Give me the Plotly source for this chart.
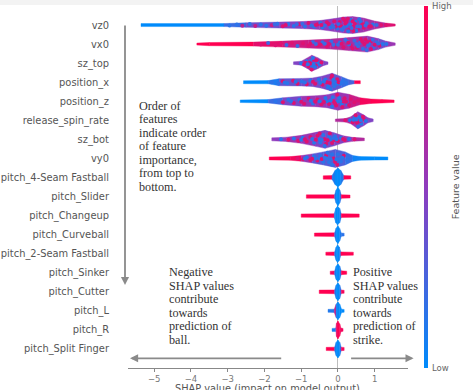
import numpy as np
import plotly.graph_objects as go

W, H = 473, 390
L_PX, R_PX, T_PX, B_PX = 128.0, 407.7, 6.0, 368.0

features = ["vz0", "vx0", "sz_top", "position_x", "position_z", "release_spin_rate",
            "sz_bot", "vy0", "pitch_4-Seam Fastball", "pitch_Slider", "pitch_Changeup",
            "pitch_Curveball", "pitch_2-Seam Fastball", "pitch_Sinker", "pitch_Cutter",
            "pitch_L", "pitch_R", "pitch_Split Finger"]

# Outline of each swarm: SHAP stations, swarm density there, mean feature value between stations
vz0_shap = [-5.36, -3.1, -2.5, -1.6, -1.0, -0.5, -0.1, 0.15, 0.4, 0.7, 1.0, 1.3, 1.56]
vz0_density = [1.5, 1.5, 2.3, 3, 3.5, 4.5, 6.5, 8, 8.5, 7, 4, 2, 1]
vz0_value = [0, 0.2, 0.38, 0.46, 0.5, 0.5, 0.5, 0.55, 0.55, 0.6, 0.65, 0.85]

vx0_shap = [-3.84, -3.5, -2.3, -1.5, -0.8, -0.2, 0.3, 0.8, 1.1, 1.3, 1.56]
vx0_density = [1, 1.6, 2, 3, 4, 5, 6.5, 8, 5.5, 3, 1.2]
vx0_value = [1, 1, 0.88, 0.78, 0.72, 0.65, 0.6, 0.52, 0.4, 0.55]

sz_top_shap = [-1.21, -1.0, -0.85, -0.71, -0.55, -0.4, -0.27]
sz_top_density = [1.3, 2, 5, 8, 5.5, 2.5, 1.2]
sz_top_value = [0.45, 0.55, 0.55, 0.55, 0.5, 0.45]

position_x_shap = [-2.57, -1.9, -1.6, -1.0, -0.7, -0.44, -0.16, 0.1, 0.3, 0.45, 0.61]
position_x_density = [1.5, 1.6, 3.5, 3.8, 4.2, 6, 9, 5.5, 2.5, 1.5, 1.5]
position_x_value = [0, 0.1, 0.35, 0.4, 0.42, 0.45, 0.35, 0.2, 0.25, 1]

position_z_shap = [-2.66, -1.9, -1.5, -1.0, -0.6, -0.3, 0.0, 0.3, 0.6, 0.9, 1.2, 1.53]
position_z_density = [1.3, 1.7, 3.5, 5, 5.5, 6.5, 9, 7, 3.5, 2.2, 1.8, 1.2]
position_z_value = [0, 0.2, 0.42, 0.55, 0.55, 0.5, 0.55, 0.75, 0.95, 1, 1]

release_spin_rate_shap = [-0.07, 0.2, 0.35, 0.54, 0.7, 0.82, 0.96]
release_spin_rate_density = [1.3, 1.8, 3.5, 8.5, 5.5, 2.5, 1.3]
release_spin_rate_value = [0.65, 0.65, 0.55, 0.5, 0.5, 0.45]

sz_bot_shap = [-1.8, -1.4, -1.0, -0.6, -0.35, -0.1, 0.15, 0.4, 0.72]
sz_bot_density = [1.5, 2.2, 4, 7, 9, 6.5, 3.5, 2, 1.3]
sz_bot_value = [0.5, 0.58, 0.55, 0.45, 0.42, 0.45, 0.55, 0.65]

vy0_shap = [-1.87, -1.3, -1.0, -0.7, -0.4, -0.07, 0.2, 0.4, 0.6, 1.0, 1.36]
vy0_density = [1.5, 1.8, 2.8, 4.5, 6.5, 9, 6.5, 3, 1.8, 1.6, 1.5]
vy0_value = [1, 0.95, 0.55, 0.32, 0.3, 0.28, 0.18, 0.05, 0, 0]

fastball4_shap = [-0.4, -0.16, -0.08, 0.0, 0.08, 0.16, 0.35]
fastball4_density = [1.7, 1.9, 7, 9.5, 7, 1.9, 1.6]
fastball4_value = [1, 0.12, 0, 0, 0.12, 1]

slider_shap = [-0.86, -0.09, -0.05, 0.0, 0.05, 0.09, 0.33]
slider_density = [1.7, 1.8, 6.5, 9.5, 6.5, 1.8, 1.5]
slider_value = [1, 0.15, 0, 0, 0.15, 1]

changeup_shap = [-1.0, -0.1, -0.06, -0.01, 0.05, 0.09, 0.58]
changeup_density = [1.7, 1.9, 7, 9.5, 7, 1.9, 1.6]
changeup_value = [1, 0.1, 0, 0, 0.1, 1]

curveball_shap = [-0.64, -0.09, -0.05, 0.0, 0.05, 0.09, 0.17]
curveball_density = [1.6, 1.8, 6.5, 9, 6, 1.7, 1.4]
curveball_value = [1, 0.15, 0, 0, 0.1, 0.15]

seam2_shap = [-0.33, -0.09, -0.05, -0.01, 0.04, 0.08, 0.42]
seam2_density = [1.5, 1.8, 6.5, 9, 6.5, 1.8, 1.5]
seam2_value = [1, 0.1, 0, 0, 0.12, 1]

sinker_shap = [-0.21, -0.09, -0.05, 0.0, 0.05, 0.09, 0.24]
sinker_density = [1.6, 1.8, 6.5, 9, 6.5, 1.9, 1.6]
sinker_value = [0.95, 0.1, 0, 0, 0.12, 1]

cutter_shap = [-0.51, -0.09, -0.05, 0.0, 0.05, 0.09, 0.17]
cutter_density = [1.7, 1.9, 6.5, 9, 6.5, 1.8, 1.5]
cutter_value = [1, 0.15, 0, 0, 0.15, 0.95]

pitch_l_shap = [-0.27, -0.1, -0.05, 0.0, 0.05, 0.1, 0.17]
pitch_l_density = [1.5, 1.7, 6.5, 9, 6.5, 1.7, 1.4]
pitch_l_value = [0.12, 0.75, 0.05, 0, 0, 0]

pitch_r_shap = [-0.16, -0.06, -0.04, 0.0, 0.05, 0.08, 0.14]
pitch_r_density = [1.5, 1.7, 6.5, 9, 6, 1.9, 1.4]
pitch_r_value = [0.08, 0.6, 0.97, 1, 0.95, 0.95]

split_shap = [-0.32, -0.09, -0.05, 0.0, 0.05, 0.09, 0.17]
split_density = [1.6, 1.8, 6.5, 9, 6.5, 1.8, 1.5]
split_value = [1, 0.12, 0, 0, 0.12, 0.95]

outline_shap = [vz0_shap, vx0_shap, sz_top_shap, position_x_shap, position_z_shap,
                release_spin_rate_shap, sz_bot_shap, vy0_shap, fastball4_shap, slider_shap,
                changeup_shap, curveball_shap, seam2_shap, sinker_shap, cutter_shap,
                pitch_l_shap, pitch_r_shap, split_shap]
outline_density = [vz0_density, vx0_density, sz_top_density, position_x_density,
                   position_z_density, release_spin_rate_density, sz_bot_density, vy0_density,
                   fastball4_density, slider_density, changeup_density, curveball_density,
                   seam2_density, sinker_density, cutter_density, pitch_l_density,
                   pitch_r_density, split_density]
outline_value = [vz0_value, vx0_value, sz_top_value, position_x_value, position_z_value,
                 release_spin_rate_value, sz_bot_value, vy0_value, fastball4_value, slider_value,
                 changeup_value, curveball_value, seam2_value, sinker_value, cutter_value,
                 pitch_l_value, pitch_r_value, split_value]

# Individual observations inside the eight continuous-feature swarms:
# SHAP value, place within the swarm height (-1..1), feature value
vz0_pts_x = [-2.95, -2.75, -2.6, -2.4, -2.25, -2.1, -1.95, -1.8, -1.65, -1.5, -1.35, -1.2, -1.05, -0.9,
             -0.8, -0.65, -0.55, -0.42, -0.3, -0.2, -0.1, -0.02, 0.05, 0.12, 0.18, 0.24, 0.3, 0.36, 0.42,
             0.48, 0.55, 0.62, 0.7, 0.78, 0.85, 0.95, 0.05, 0.2, 0.33, 0.5, 0.65, 0.28, 0.42, 0.14, 0.58,
             -1.72, -1.42, -1.12, -0.97, -0.72, -0.6, -0.48, -0.36, -0.25, -0.15, -0.06, 0.02, 0.09, 0.16,
             0.23, 0.37, 0.46, 0.53, 0.68, 0.75, 0.9, 1.05, 1.18, 1.3, 0.27, 0.1, 0.6, 0.4, -0.45, -0.12]
vz0_pts_f = [0.2, -0.3, 0.3, -0.4, 0.4, -0.2, 0.3, 0.1, -0.4, 0.4, -0.3, 0.3, -0.2, 0.4, -0.5, 0.4, -0.2, 0.5,
             -0.5, 0.4, -0.6, 0.5, -0.4, 0.6, -0.6, 0.1, 0.6, -0.6, 0.2, -0.4, 0.5, -0.4, 0.4, -0.3, 0.3, -0.1,
             0.1, -0.2, -0.1, 0.7, 0.0, 0.75, 0.7, -0.8, -0.75,
             -0.3, 0.0, -0.2, -0.4, 0.1, 0.0, -0.5, 0.1, -0.2, 0.1, 0.2, -0.1, 0.2, 0.3, -0.4, 0.35, -0.15, 0.2,
             -0.1, 0.05, 0.25, 0.0, 0.0, 0.0, -0.75, 0.55, 0.2, -0.45, 0.0, 0.3]
vz0_pts_v = [0.15, 0.15, 0.7, 0.15, 0.75, 0.15, 0.15, 0.75, 0.15, 0.85, 0.15, 0.15, 0.85, 0.15, 0.85, 0.15, 0.85,
             0.15, 0.85, 0.15, 0.85, 0.15, 0.85, 0.15, 0.85, 0.15, 0.85, 0.15, 0.85, 0.15, 0.85, 0.15, 0.85, 0.15,
             0.85, 0.15, 0.85, 0.85, 0.15, 0.15, 0.85, 0.15, 0.85, 0.85, 0.15,
             0.2, 0.85, 0.2, 0.2, 0.2, 0.85, 0.2, 0.2, 0.85, 0.2, 0.85, 0.2, 0.85, 0.2, 0.85, 0.2, 0.85, 0.2,
             0.85, 0.2, 0.85, 0.2, 0.85, 0.85, 0.85, 0.2, 0.2, 0.85, 0.85, 0.2]

vx0_pts_x = [-2.1, -1.9, -1.7, -1.55, -1.4, -1.25, -1.1, -0.95, -0.8, -0.68, -0.55, -0.42, -0.3, -0.18, -0.05, 0.05,
             0.15, 0.25, 0.35, 0.45, 0.52, 0.6, 0.68, 0.75, 0.82, 0.9, 0.97, 1.05, 1.13, 1.22, 1.32, 0.62, 0.78,
             0.4, 0.9, 0.2, 0.72,
             -0.75, -0.6, -0.48, -0.36, -0.24, -0.12, 0.0, 0.1, 0.3, 0.5, 0.66, 0.85, 1.0, 0.55, 0.8, 0.28, 0.95, 1.1]
vx0_pts_f = [0.2, -0.4, 0.4, -0.3, 0.3, -0.4, 0.5, -0.2, 0.4, -0.5, 0.3, -0.4, 0.5, -0.5, 0.3, -0.3, 0.5, -0.4, 0.2,
             -0.5, 0.5, -0.2, 0.6, -0.6, 0.2, -0.4, 0.5, -0.3, 0.3, 0.0, 0.0, -0.7, 0.75, 0.65, 0.7, -0.7, 0.0,
             -0.1, 0.0, 0.1, -0.1, 0.0, 0.1, 0.1, -0.05, 0.05, 0.0, -0.3, 0.0, 0.1, 0.3, -0.3, -0.2, -0.65, -0.1]
vx0_pts_v = [0.85, 0.2, 0.85, 0.85, 0.2, 0.85, 0.2, 0.85, 0.85, 0.2, 0.85, 0.2, 0.85, 0.2, 0.85, 0.2, 0.85,
             0.2, 0.85, 0.2, 0.85, 0.2, 0.2, 0.85, 0.2, 0.85, 0.2, 0.2, 0.85, 0.15, 0.15, 0.85, 0.2, 0.85,
             0.85, 0.2, 0.85,
             0.85, 0.2, 0.85, 0.2, 0.85, 0.2, 0.2, 0.85, 0.2, 0.2, 0.85, 0.2, 0.85, 0.2, 0.85, 0.85, 0.2, 0.2]

sz_top_pts_x = [-1.0, -0.92, -0.85, -0.8, -0.75, -0.7, -0.65, -0.6, -0.55, -0.5, -0.45, -0.78, -0.68, -0.62, -0.72, -0.88,
                -0.74, -0.66, -0.82, -0.58]
sz_top_pts_f = [0.0, 0.3, -0.4, 0.5, -0.3, 0.4, -0.5, 0.3, -0.2, 0.3, -0.2, -0.1, -0.7, 0.6, 0.8, -0.1,
                0.05, 0.1, 0.2, -0.5]
sz_top_pts_v = [0.15, 0.85, 0.15, 0.85, 0.15, 0.15, 0.85, 0.85, 0.15, 0.15, 0.85, 0.85, 0.15, 0.15, 0.85, 0.85,
                0.85, 0.15, 0.15, 0.85]

position_x_pts_x = [-1.8, -1.62, -1.5, -1.38, -1.22, -1.1, -0.98, -0.85, -0.75, -0.62, -0.52, -0.42, -0.34, -0.26, -0.18,
                    -0.1, -0.02, 0.06, 0.14, 0.22, -0.3, -0.14, -0.06, -0.2,
                    -1.45, -1.15, -0.9, -0.68, -0.48, -0.38, -0.22, -0.12, -0.04, 0.02, 0.1, -0.16, -0.28]
position_x_pts_f = [0.0, 0.4, -0.3, 0.3, -0.4, 0.4, -0.2, 0.5, -0.4, 0.3, -0.5, 0.4, -0.4, 0.5, -0.5, 0.5, -0.4, 0.3,
                    -0.3, 0.2, 0.0, 0.1, 0.0, 0.8,
                    0.1, -0.1, 0.05, -0.1, 0.1, -0.1, 0.1, -0.3, 0.2, 0.0, 0.1, -0.75, 0.7]
position_x_pts_v = [0.15, 0.15, 0.85, 0.15, 0.85, 0.85, 0.15, 0.85, 0.15, 0.85, 0.15, 0.85, 0.15, 0.15, 0.85, 0.15, 0.85,
                    0.15, 0.15, 0.15, 0.85, 0.15, 0.15, 0.15,
                    0.15, 0.15, 0.15, 0.85, 0.15, 0.15, 0.85, 0.15, 0.15, 0.85, 0.15, 0.85, 0.15]

position_z_pts_x = [-1.7, -1.5, -1.35, -1.2, -1.05, -0.92, -0.8, -0.68, -0.56, -0.45, -0.34, -0.24, -0.14, -0.05, 0.03,
                    0.1, 0.18, 0.26, 0.35, 0.45, -0.12, 0.0, 0.14, -0.3, 0.55,
                    -1.28, -1.0, -0.74, -0.62, -0.5, -0.38, -0.2, -0.08, 0.06, 0.22, 0.3, -0.02, -0.16, 0.12]
position_z_pts_f = [0.0, 0.3, -0.4, 0.4, -0.3, 0.5, -0.5, 0.4, -0.3, 0.5, -0.5, 0.4, -0.5, 0.5, -0.4, 0.4, -0.4, 0.4,
                    -0.3, 0.2, 0.0, 0.0, 0.0, 0.0, -0.2,
                    0.0, 0.1, -0.1, 0.1, 0.0, 0.1, -0.1, 0.25, 0.0, 0.05, 0.55, -0.75, 0.7, 0.7]
position_z_pts_v = [0.15, 0.85, 0.15, 0.85, 0.15, 0.85, 0.85, 0.15, 0.85, 0.85, 0.15, 0.85, 0.15, 0.85, 0.15, 0.15, 0.85,
                    0.15, 0.85, 0.85, 0.85, 0.15, 0.85, 0.15, 0.85,
                    0.15, 0.85, 0.15, 0.85, 0.15, 0.85, 0.15, 0.85, 0.15, 0.85, 0.85, 0.85, 0.15, 0.85]

release_spin_rate_pts_x = [0.2, 0.33, 0.4, 0.46, 0.52, 0.58, 0.64, 0.7, 0.76, 0.5, 0.6, 0.42, 0.55, 0.68, 0.48, 0.62]
release_spin_rate_pts_f = [0.0, 0.0, 0.4, -0.5, 0.3, -0.4, 0.5, -0.2, 0.2, -0.1, 0.1, -0.1, 0.75, -0.6, -0.75, 0.0]
release_spin_rate_pts_v = [0.85, 0.15, 0.85, 0.15, 0.85, 0.15, 0.15, 0.85, 0.15, 0.15, 0.85, 0.15, 0.15, 0.85, 0.85, 0.15]

sz_bot_pts_x = [-1.55, -1.35, -1.2, -1.08, -0.96, -0.85, -0.75, -0.65, -0.56, -0.48, -0.4, -0.32, -0.24, -0.16, -0.08,
                0.0, 0.08, 0.18, 0.3, -0.36, -0.2, -0.5, -0.1, 0.45,
                -1.0, -0.7, -0.6, -0.44, -0.28, -0.12, -0.04, 0.14, -0.36, -0.5, -0.22, -0.9]
sz_bot_pts_f = [0.0, 0.2, -0.3, 0.4, -0.4, 0.4, -0.4, 0.5, -0.5, 0.4, -0.5, 0.5, -0.4, 0.5, -0.5, 0.3, -0.3, 0.2, -0.1,
                0.0, 0.0, 0.0, 0.1, 0.0,
                0.1, -0.05, 0.05, 0.05, 0.1, -0.2, 0.0, -0.1, 0.75, -0.75, -0.75, -0.05]
sz_bot_pts_v = [0.15, 0.85, 0.15, 0.85, 0.15, 0.85, 0.85, 0.15, 0.85, 0.15, 0.15, 0.85, 0.15, 0.85, 0.15, 0.85, 0.15,
                0.85, 0.15, 0.85, 0.15, 0.15, 0.85, 0.85,
                0.15, 0.15, 0.85, 0.15, 0.85, 0.15, 0.15, 0.85, 0.15, 0.85, 0.85, 0.85]

vy0_pts_x = [-1.1, -0.95, -0.85, -0.75, -0.65, -0.56, -0.48, -0.4, -0.32, -0.24, -0.16, -0.08, 0.0, 0.08, 0.16, 0.25,
             0.35, -0.3, -0.12, 0.04, -0.5,
             -0.9, -0.7, -0.6, -0.44, -0.36, -0.2, -0.04, 0.12, -0.16, -0.02, -0.28]
vy0_pts_f = [0.0, 0.3, -0.3, 0.4, -0.4, 0.4, -0.5, 0.5, -0.4, 0.5, -0.5, 0.4, -0.5, 0.4, -0.4, 0.3, -0.1, 0.0, 0.0, 0.1, 0.0,
             0.0, 0.05, 0.0, 0.1, -0.1, 0.1, 0.1, -0.1, 0.75, 0.75, -0.75]
vy0_pts_v = [0.85, 0.85, 0.15, 0.85, 0.15, 0.85, 0.15, 0.15, 0.85, 0.15, 0.15, 0.85, 0.15, 0.15, 0.85, 0.15, 0.15,
             0.15, 0.85, 0.15, 0.15,
             0.15, 0.85, 0.15, 0.85, 0.15, 0.15, 0.15, 0.15, 0.15, 0.85, 0.15]

pts_x = [vz0_pts_x, vx0_pts_x, sz_top_pts_x, position_x_pts_x, position_z_pts_x,
         release_spin_rate_pts_x, sz_bot_pts_x, vy0_pts_x]
pts_f = [vz0_pts_f, vx0_pts_f, sz_top_pts_f, position_x_pts_f, position_z_pts_f,
         release_spin_rate_pts_f, sz_bot_pts_f, vy0_pts_f]
pts_v = [vz0_pts_v, vx0_pts_v, sz_top_pts_v, position_x_pts_v, position_z_pts_v,
         release_spin_rate_pts_v, sz_bot_pts_v, vy0_pts_v]

x_ticks = [-5, -4, -3, -2, -1, 0, 1]
x_tick_text = ["\u22125", "\u22124", "\u22123", "\u22122", "\u22121", "0", "1"]

note_order = ["Order of", "features", "indicate order", "of feature", "importance,", "from top to", "bottom."]
note_negative = ["Negative", "SHAP values", "contribute", "towards", "prediction of", "ball."]
note_positive = ["Positive", "SHAP values", "contribute", "towards", "prediction of", "strike."]

BLUE, MID, PINK = (0, 139, 251), (143, 60, 190), (255, 0, 81)
colorscale = [[0, "rgb(0,139,251)"], [0.5, "rgb(143,60,190)"], [1, "rgb(255,0,81)"]]
ROW_PX = (B_PX - T_PX) / 19.0


def feature_colour(v):
    a, b, t = (BLUE, MID, v / 0.5) if v < 0.5 else (MID, PINK, (v - 0.5) / 0.5)
    return "rgb(%d,%d,%d)" % tuple(round(a[i] + (b[i] - a[i]) * t) for i in range(3))


def fx(px):
    return (px - L_PX) / (R_PX - L_PX)


def fy(py):
    return (B_PX - py) / (B_PX - T_PX)


fig = go.Figure()

# Swarm bodies, one filled band per stretch between stations
for row, (xs, ds, vs) in enumerate(zip(outline_shap, outline_density, outline_value)):
    for i, v in enumerate(vs):
        h0, h1 = ds[i] / ROW_PX, ds[i + 1] / ROW_PX
        c = feature_colour(v)
        fig.add_trace(go.Scatter(
            x=[xs[i], xs[i + 1], xs[i + 1], xs[i], xs[i]],
            y=[row - h0, row - h1, row + h1, row + h0, row - h0],
            mode="lines", fill="toself", fillcolor=c,
            line=dict(color=c, width=0.4), hoverinfo="skip", showlegend=False))

# Mottling of individual observations on the continuous features
for row, (xs, fs, vs) in enumerate(zip(pts_x, pts_f, pts_v)):
    d = np.interp(xs, outline_shap[row], outline_density[row]) / ROW_PX
    fig.add_trace(go.Scatter(
        x=xs, y=row + np.array(fs) * d, mode="markers",
        marker=dict(size=4, color=vs, coloraxis="coloraxis", line=dict(width=0)),
        hoverinfo="skip", showlegend=False))

annotations = []
for lines, left_px, top_px in [(note_order, 136.5, 106), (note_negative, 167, 272.3), (note_positive, 351, 272.3)]:
    for i, line in enumerate(lines):
        annotations.append(dict(
            xref="paper", yref="paper", x=fx(left_px), y=fy(top_px + i * 13.48),
            text=line, showarrow=False, xanchor="left", yanchor="middle",
            font=dict(family="Liberation Serif", size=12.2, color="#333333")))

# Guide arrows around the plot
for tip, tail in [((125, 285), (125, 24)), ((130, 358.3), (282.7, 358.3)), ((413.3, 358.3), (349.3, 358.3))]:
    annotations.append(dict(
        xref="paper", yref="paper", x=fx(tip[0]), y=fy(tip[1]),
        ax=tail[0] - tip[0], ay=tail[1] - tip[1], axref="pixel", ayref="pixel",
        text="", showarrow=True, arrowhead=2, arrowsize=0.9, arrowwidth=1.8, arrowcolor="#8a8a8a"))

for label, py in [("High", 6), ("Low", 368)]:
    annotations.append(dict(
        xref="paper", yref="paper", x=fx(430), y=fy(py), text=label, showarrow=False,
        xanchor="left", yanchor="middle", font=dict(family="DejaVu Sans", size=8.5, color="#666666")))
annotations.append(dict(
    xref="paper", yref="paper", x=fx(455), y=fy(187), text="Feature value", textangle=-90,
    showarrow=False, xanchor="center", yanchor="middle",
    font=dict(family="DejaVu Sans", size=9.5, color="#555555")))
# x axis caption sits low against the bottom edge of the page
annotations.append(dict(
    xref="paper", yref="paper", x=fx(267.5), y=fy(388.5), text="SHAP value (impact on model output)",
    showarrow=False, xanchor="center", yanchor="middle",
    font=dict(family="DejaVu Sans", size=9.8, color="#555555")))

fig.update_layout(
    width=W, height=H, autosize=False,
    margin=dict(l=L_PX, r=W - R_PX, t=T_PX, b=H - B_PX, autoexpand=False),
    paper_bgcolor="white", plot_bgcolor="white",
    annotations=annotations,
    shapes=[dict(type="rect", xref="paper", yref="paper", x0=fx(0), x1=fx(W), y0=fy(5), y1=fy(0),
                 fillcolor="#f3f3f3", line=dict(width=0), layer="below")],
    coloraxis=dict(
        cmin=0, cmax=1, colorscale=colorscale,
        colorbar=dict(xref="paper", yref="paper", x=fx(426), xanchor="center",
                      y=0, yanchor="bottom", lenmode="fraction", len=1,
                      thickness=3.5, thicknessmode="pixels", outlinewidth=0, ticks="",
                      showticklabels=False, xpad=0, ypad=0)),
    xaxis=dict(range=[(L_PX - 337.7) / 36.7, (R_PX - 337.7) / 36.7], tickvals=x_ticks, ticktext=x_tick_text,
               ticks="outside", ticklen=2.5, tickwidth=1, tickcolor="#888888",
               tickfont=dict(family="DejaVu Sans", size=8.5, color="#777777"),
               showline=True, linecolor="#888888", linewidth=1, showgrid=False,
               zeroline=True, zerolinecolor="#bdbdbd", zerolinewidth=1.2),
    yaxis=dict(range=[18, -1], tickvals=list(range(18)), ticktext=features, showgrid=False, zeroline=False,
               showline=False, ticks="", ticklabelstandoff=18,
               tickfont=dict(family="DejaVu Sans", size=9.9, color="#555555")),
)

fig.write_html("out.html")
